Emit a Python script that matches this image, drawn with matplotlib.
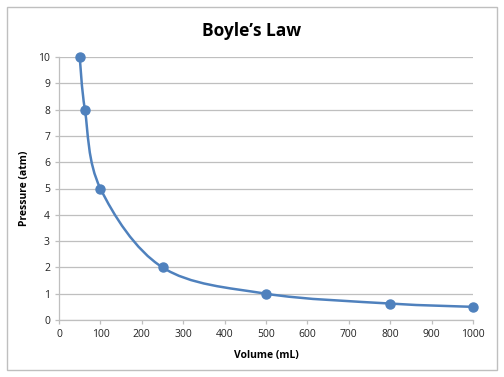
import matplotlib.pyplot as plt
from matplotlib.path import Path
from matplotlib.patches import PathPatch, Rectangle
import numpy as np

volume = [50, 62.5, 100, 250, 500, 800, 1000]
pressure = [10, 8, 5, 2, 1, 0.625, 0.5]

blue = '#4F81BD'
grey = '#BFBFBF'
plt.rcParams['font.family'] = ['Open Sans', 'DejaVu Sans']

fig = plt.figure(figsize=(5.04, 3.77), dpi=100)
ax = fig.add_axes([59/504, 1 - 320/377, 414/504, 263/377])

# smoothed line like Excel (Catmull-Rom turned into cubic bezier segments)
pts = np.column_stack([volume, pressure])
verts = [pts[0]]
codes = [Path.MOVETO]
for i in range(len(pts) - 1):
    p0 = pts[i - 1] if i > 0 else pts[i]
    p1 = pts[i]
    p2 = pts[i + 1]
    p3 = pts[i + 2] if i + 2 < len(pts) else pts[i + 1]
    c1 = p1 + (p2 - p0) / 6
    c2 = p2 - (p3 - p1) / 6
    verts += [c1, c2, p2]
    codes += [Path.CURVE4] * 3
ax.add_patch(PathPatch(Path(verts, codes), facecolor='none', edgecolor=blue, lw=1.8, zorder=3))
ax.plot(volume, pressure, 'o', color=blue, ms=6.5, zorder=4, clip_on=False)

ax.set_xlim(0, 1000)
ax.set_ylim(0, 10)
ax.set_xticks(range(0, 1001, 100))
ax.set_yticks(range(0, 11))
ax.grid(axis='y', color=grey, lw=0.9)
ax.set_axisbelow(True)
for s in ['top', 'right']:
    ax.spines[s].set_visible(False)
for s in ['left', 'bottom']:
    ax.spines[s].set_color(grey)
    ax.spines[s].set_linewidth(0.9)
ax.tick_params(colors=grey, labelcolor='#222222', labelsize=7.5, length=3, width=0.9)

ax.set_xlabel('Volume (mL)', fontsize=7.5, fontweight='bold', labelpad=7)
ax.set_ylabel('Pressure (atm)', fontsize=7.5, fontweight='bold', labelpad=6)
fig.text(252/504, 1 - 31/377, 'Boyle\u2019s Law', ha='center', va='center',
         fontsize=12.5, fontweight='bold')

fig.patches.append(Rectangle((7/504, 7/377), 490/504, 363/377, transform=fig.transFigure,
                             fill=False, edgecolor='#BFBFBF', lw=1))

fig.savefig('out.png', dpi=100)
